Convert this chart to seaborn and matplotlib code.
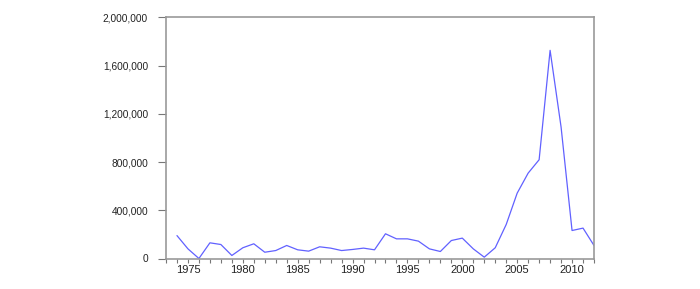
import matplotlib
matplotlib.use("Agg")
import matplotlib.pyplot as plt
import matplotlib.ticker as mticker
import seaborn as sns
import pandas as pd

years = list(range(1974, 2013))
values = [190000, 80000, 0, 130000, 116000, 25000, 89000, 122000, 52000, 66000,
          108000, 72000, 61000, 97000, 86000, 66000, 75000, 86000, 72000, 205000,
          163000, 163000, 144000, 80000, 58000, 149000, 169000, 80000, 11000, 89000,
          282000, 542000, 708000, 819000, 1726000, 1090000, 232000, 252000, 108000]
ytick_vals = [0, 400000, 800000, 1200000, 1600000, 2000000]
xtick_labels = [1975, 1980, 1985, 1990, 1995, 2000, 2005, 2010]

df = pd.DataFrame({"year": years, "value": values})

sns.set_style("white")
plt.rcParams["font.family"] = ["Liberation Sans", "DejaVu Sans"]

fig = plt.figure(figsize=(7, 2.89), dpi=100)
ax = fig.add_axes([166 / 700, 1 - 258.5 / 289, (594 - 166) / 700, (258.5 - 17.3) / 289])
sns.lineplot(data=df, x="year", y="value", ax=ax, color="#6161ff", linewidth=0.9)

ax.set_xlim(1973, 2012)
ax.set_ylim(0, 2000000)
ax.set_yticks(ytick_vals)
ax.yaxis.set_major_formatter(mticker.FuncFormatter(lambda v, p: f"{int(v):,}"))
ax.set_xticks(xtick_labels)
ax.set_xticks(list(range(1973, 2013)), minor=True)
ax.set_xlabel("")
ax.set_ylabel("")

for s in ax.spines.values():
    s.set_color("#999999")
    s.set_linewidth(1.2)

ax.tick_params(axis="both", which="both", direction="out", colors="#777777",
               labelcolor="#222222")
ax.tick_params(axis="x", which="both", length=3, width=0.8, bottom=True, pad=2, labelsize=8)
ax.tick_params(axis="y", which="major", length=6, width=0.8, left=True, pad=7, labelsize=7.3)

fig.savefig("out.png", dpi=100)
